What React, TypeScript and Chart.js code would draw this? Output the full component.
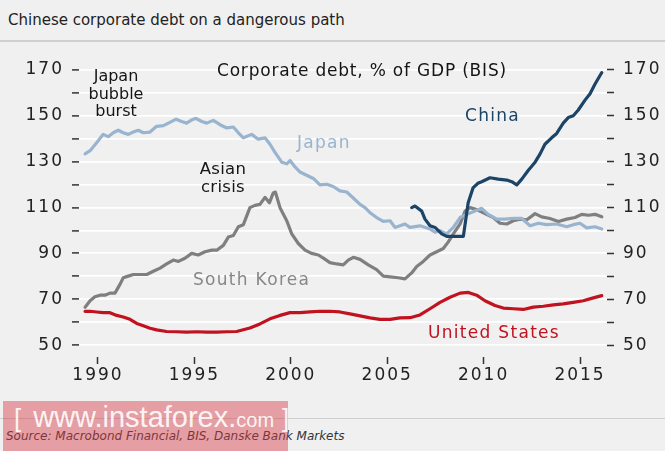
import React, { useEffect, useRef } from 'react';
import { Chart, registerables } from 'chart.js';

Chart.register(...registerables);

// values (year as decimal, % of GDP)
const chinaYears = [
  2006.27, 2006.44, 2006.79, 2006.96, 2007.22, 2007.48, 2007.83, 2008.09, 2008.43, 2008.95,
  2009.2, 2009.45, 2009.7, 2009.9, 2010.33, 2010.76, 2011.2, 2011.46, 2011.72, 2011.98,
  2012.32, 2012.67, 2012.93, 2013.18, 2013.53, 2013.79, 2014.13, 2014.39, 2014.65, 2014.91,
  2015.26, 2015.52, 2015.78, 2016.13,
];
const chinaDebt = [
  109.9, 110.6, 108.4, 104.9, 102.0, 101.3, 98.5, 97.4, 97.4, 97.4,
  112.0, 118.5, 120.5, 121.2, 122.9, 122.3, 121.9, 121.2, 119.8, 122.3,
  126.2, 129.7, 133.3, 137.5, 140.3, 142.2, 146.7, 149.1, 149.9, 152.4,
  156.7, 159.5, 163.7, 168.7,
];

const japanYears = [
  1989.33, 1989.59, 1989.93, 1990.27, 1990.53, 1990.79, 1991.05, 1991.31, 1991.57, 1991.83,
  1992.09, 1992.35, 1992.7, 1993.04, 1993.39, 1993.73, 1994.05, 1994.34, 1994.6, 1994.86,
  1995.08, 1995.38, 1995.64, 1995.98, 1996.33, 1996.68, 1997.02, 1997.28, 1997.54, 1997.97,
  1998.31, 1998.66, 1998.92, 1999.18, 1999.53, 1999.79, 1999.96, 2000.22, 2000.48, 2000.82,
  2001.17, 2001.51, 2001.86, 2002.2, 2002.55, 2002.9, 2003.24, 2003.59, 2003.85, 2004.11,
  2004.45, 2004.8, 2005.15, 2005.4, 2005.66, 2005.92, 2006.18, 2006.7, 2007.22, 2007.48,
  2007.74, 2008.09, 2008.43, 2008.78, 2009.21, 2009.55, 2009.9, 2010.24, 2010.68, 2011.11,
  2011.54, 2011.98, 2012.41, 2012.84, 2013.27, 2013.79, 2014.31, 2014.65, 2015.0, 2015.35,
  2015.78, 2016.13,
];
const japanDebt = [
  133.3, 134.7, 138.2, 141.8, 140.8, 142.5, 143.6, 142.5, 141.8, 142.8,
  143.6, 142.5, 142.8, 145.3, 145.6, 147.0, 148.4, 147.4, 146.7, 148.1,
  148.8, 147.4, 146.7, 147.9, 146.0, 144.6, 145.0, 142.5, 140.3, 141.8,
  139.7, 140.3, 137.5, 134.0, 129.7, 129.0, 130.4, 127.6, 125.4, 124.0,
  122.6, 119.8, 120.1, 119.1, 117.2, 116.7, 114.1, 111.3, 109.9, 107.7,
  105.6, 103.9, 104.2, 101.3, 102.0, 102.8, 101.3, 102.0, 100.6, 99.2,
  99.9, 98.5, 101.3, 105.6, 107.3, 108.4, 109.6, 107.0, 104.9, 104.9,
  105.3, 105.2, 102.0, 103.1, 102.5, 102.8, 101.6, 102.5, 103.1, 101.1,
  101.6, 100.6,
];

const koreaYears = [
  1989.33, 1989.59, 1989.84, 1990.1, 1990.36, 1990.62, 1990.88, 1991.14, 1991.31, 1991.57,
  1991.83, 1992.18, 1992.53, 1992.87, 1993.22, 1993.56, 1993.91, 1994.17, 1994.51, 1994.86,
  1995.2, 1995.55, 1995.9, 1996.16, 1996.5, 1996.76, 1997.02, 1997.28, 1997.54, 1997.88,
  1998.14, 1998.4, 1998.66, 1998.89, 1999.09, 1999.2, 1999.44, 1999.79, 2000.05, 2000.39,
  2000.74, 2001.08, 2001.43, 2001.69, 2002.03, 2002.38, 2002.72, 2002.98, 2003.24, 2003.59,
  2004.02, 2004.45, 2004.8, 2005.15, 2005.58, 2005.92, 2006.27, 2006.53, 2006.87, 2007.22,
  2007.57, 2007.91, 2008.17, 2008.43, 2008.78, 2009.04, 2009.3, 2009.64, 2010.07, 2010.5,
  2010.85, 2011.2, 2011.54, 2011.89, 2012.24, 2012.67, 2013.01, 2013.44, 2013.88, 2014.31,
  2014.74, 2015.09, 2015.44, 2015.78, 2016.13,
];
const koreaDebt = [
  66.6, 69.4, 71.1, 71.8, 71.8, 72.7, 72.7, 76.5, 79.4, 80.1,
  80.8, 80.8, 80.8, 82.2, 83.6, 85.4, 87.1, 86.5, 87.9, 90.0,
  89.3, 90.7, 91.4, 91.4, 93.5, 97.1, 97.8, 101.6, 102.5, 109.9,
  110.9, 111.3, 114.4, 112.0, 116.3, 116.7, 109.9, 104.2, 98.5, 94.3,
  91.4, 90.0, 89.3, 87.9, 86.0, 85.4, 85.0, 87.1, 88.3, 87.4,
  85.0, 82.9, 80.1, 79.8, 79.4, 78.9, 81.5, 84.3, 86.5, 89.3,
  90.7, 92.1, 95.0, 98.5, 102.8, 108.4, 109.9, 109.1, 107.3, 105.6,
  103.1, 102.8, 104.2, 104.9, 104.6, 107.3, 105.9, 105.2, 103.9, 104.9,
  105.6, 107.0, 106.6, 107.0, 105.9,
];

const usYears = [
  1989.33, 1989.59, 1989.93, 1990.27, 1990.62, 1990.97, 1991.31, 1991.66, 1992.01, 1992.35,
  1992.7, 1993.04, 1993.56, 1994.08, 1994.6, 1995.12, 1995.64, 1996.16, 1996.68, 1997.19,
  1997.88, 1998.4, 1998.92, 1999.44, 1999.96, 2000.48, 2001.0, 2001.51, 2002.03, 2002.55,
  2003.07, 2003.59, 2004.11, 2004.62, 2005.15, 2005.66, 2006.18, 2006.7, 2007.22, 2007.74,
  2008.26, 2008.78, 2009.21, 2009.64, 2010.07, 2010.59, 2011.02, 2011.54, 2012.06, 2012.58,
  2013.1, 2013.62, 2014.13, 2014.65, 2015.17, 2015.6, 2016.13,
];
const usDebt = [
  64.8, 64.8, 64.5, 64.2, 64.2, 63.0, 62.3, 61.3, 59.5, 58.5,
  57.4, 56.7, 56.0, 55.9, 55.7, 55.9, 55.7, 55.7, 55.9, 56.0,
  57.5, 59.3, 61.5, 63.0, 64.2, 64.2, 64.5, 64.8, 64.8, 64.5,
  63.7, 62.8, 61.9, 61.3, 61.3, 61.9, 62.0, 63.2, 65.9, 68.7,
  70.9, 72.7, 73.0, 71.8, 69.4, 67.3, 66.2, 65.9, 65.6, 66.6,
  67.0, 67.6, 68.0, 68.7, 69.4, 70.4, 71.6,
];

const xTickYears = [1990, 1995, 2000, 2005, 2010, 2015];
const yTickValues = [50, 60, 70, 80, 90, 100, 110, 120, 130, 140, 150, 160, 170];

const toPoints = (xs: number[], ys: number[]) => xs.map((x, i) => ({ x, y: ys[i] }));

const FONT = "'DejaVu Sans', sans-serif";
const tickFont = { family: FONT, size: 17, lineHeight: 1.2 };

// labels on 50, 70, ... 170; the ticks in between keep only their dash
const yLabel = (v: any) => (Number(v) % 20 === 10 ? String(v) : '');

const textBase: React.CSSProperties = {
  position: 'absolute',
  fontFamily: FONT,
  whiteSpace: 'nowrap',
  lineHeight: '20px',
};

const App: React.FC = () => {
  const canvasRef = useRef<HTMLCanvasElement>(null);

  useEffect(() => {
    const ctx = canvasRef.current?.getContext('2d');
    if (!ctx) return;
    const line = (label: string, xs: number[], ys: number[], color: string) => ({
      label,
      data: toPoints(xs, ys),
      borderColor: color,
      backgroundColor: color,
      borderWidth: 3.2,
      pointRadius: 0,
      tension: 0,
      fill: false,
      borderJoinStyle: 'round' as const,
      borderCapStyle: 'round' as const,
    });
    const chart = new Chart(ctx, {
      type: 'line',
      data: {
        datasets: [
          line('China', chinaYears, chinaDebt, '#1b4466'),
          line('Japan', japanYears, japanDebt, '#98b4cf'),
          line('South Korea', koreaYears, koreaDebt, '#7f7f7f'),
          line('United States', usYears, usDebt, '#c1121f'),
        ],
      },
      options: {
        animation: false,
        responsive: false,
        events: [],
        layout: { padding: { top: 12, left: 0, right: 0, bottom: 0 } },
        plugins: {
          legend: { display: false },
          tooltip: { enabled: false },
          title: { display: false },
        },
        scales: {
          x: {
            type: 'linear',
            position: 'bottom',
            min: 1989.015,
            max: 2016.4,
            afterBuildTicks: (s: any) => {
              s.ticks = xTickYears.map((v) => ({ value: v }));
            },
            afterFit: (s: any) => {
              s.height = 43;
            },
            border: { display: false },
            grid: { drawOnChartArea: false, drawTicks: true, tickLength: 7, tickColor: '#333', tickWidth: 1.5 },
            ticks: { font: tickFont, color: '#222', padding: 1, maxRotation: 0, callback: (v: any) => String(v) },
          },
          y: {
            type: 'linear',
            position: 'left',
            min: 44.9,
            max: 172.34,
            afterBuildTicks: (s: any) => {
              s.ticks = yTickValues.map((v) => ({ value: v }));
            },
            afterFit: (s: any) => {
              s.width = 79;
            },
            border: { display: false },
            grid: { color: '#ffffff', lineWidth: 1.8, tickColor: '#333', tickLength: 7, tickWidth: 1.5 },
            ticks: { font: tickFont, color: '#222', padding: 8, callback: yLabel },
          },
          y2: {
            type: 'linear',
            position: 'right',
            min: 44.9,
            max: 172.34,
            afterBuildTicks: (s: any) => {
              s.ticks = yTickValues.map((v) => ({ value: v }));
            },
            afterFit: (s: any) => {
              s.width = 58;
            },
            border: { display: false },
            grid: { drawOnChartArea: false, tickColor: '#333', tickLength: 7, tickWidth: 1.5 },
            ticks: { font: tickFont, color: '#222', padding: 9, callback: yLabel },
          },
        },
      },
      plugins: [
        {
          id: 'wideText',
          beforeDraw: (c: any) => {
            c.ctx.letterSpacing = '2px';
          },
        },
      ],
    });
    return () => chart.destroy();
  }, []);

  return (
    <div
      style={{
        position: 'absolute',
        left: 0,
        top: 0,
        width: 665,
        height: 451,
        background: '#f0f0f0',
        overflow: 'hidden',
        fontFamily: FONT,
      }}
    >
      <div style={{ ...textBase, left: 8, top: 10, fontSize: 15, color: '#222' }}>
        Chinese corporate debt on a dangerous path
      </div>
      <div style={{ position: 'absolute', left: 0, top: 40, width: 665, height: 2, background: '#cfcfcf' }} />

      <canvas ref={canvasRef} width={665} height={355} style={{ position: 'absolute', left: 0, top: 45 }} />

      <div style={{ ...textBase, left: 217, top: 60, fontSize: 17, letterSpacing: '0.8px', color: '#151515' }}>
        Corporate debt, % of GDP (BIS)
      </div>
      <div
        style={{
          ...textBase,
          left: 66,
          width: 100,
          top: 67,
          fontSize: 16,
          lineHeight: '17.5px',
          textAlign: 'center',
          color: '#151515',
        }}
      >
        Japan
        <br />
        bubble
        <br />
        burst
      </div>
      <div
        style={{
          ...textBase,
          left: 173,
          width: 100,
          top: 160,
          fontSize: 16.5,
          lineHeight: '18px',
          letterSpacing: '0.3px',
          textAlign: 'center',
          color: '#151515',
        }}
      >
        Asian
        <br />
        crisis
      </div>
      <div style={{ ...textBase, left: 297, top: 132, fontSize: 17, letterSpacing: '1.3px', color: '#98b4cf' }}>
        Japan
      </div>
      <div style={{ ...textBase, left: 465, top: 105, fontSize: 17, letterSpacing: '1.3px', color: '#1b4466' }}>
        China
      </div>
      <div style={{ ...textBase, left: 193, top: 269, fontSize: 17, letterSpacing: '1.3px', color: '#878787' }}>
        South Korea
      </div>
      <div style={{ ...textBase, left: 428, top: 322, fontSize: 17, letterSpacing: '1.3px', color: '#c1121f' }}>
        United States
      </div>

      <div style={{ position: 'absolute', left: 0, top: 418, width: 665, height: 1, background: '#cfcfcf' }} />
      <div style={{ ...textBase, left: 6, top: 426, fontSize: 12, fontStyle: 'italic', color: '#333' }}>
        Source: Macrobond Financial, BIS, Danske Bank Markets
      </div>
      <div
        style={{
          position: 'absolute',
          left: 3,
          top: 401,
          width: 285,
          height: 50,
          background: 'rgba(214, 60, 70, 0.45)',
        }}
      />
      <div
        style={{
          position: 'absolute',
          left: 14,
          top: 403,
          display: 'flex',
          alignItems: 'baseline',
          fontFamily: "'Liberation Sans', Arial, sans-serif",
          color: 'rgba(255,255,255,0.9)',
          lineHeight: '29px',
          whiteSpace: 'nowrap',
        }}
      >
        <span style={{ fontSize: 26, marginRight: 12 }}>[</span>
        <span style={{ fontSize: 29 }}>www.instaforex.</span>
        <span style={{ fontSize: 20 }}>com</span>
        <span style={{ fontSize: 26, marginLeft: 8 }}>]</span>
      </div>
    </div>
  );
};

export default App;
